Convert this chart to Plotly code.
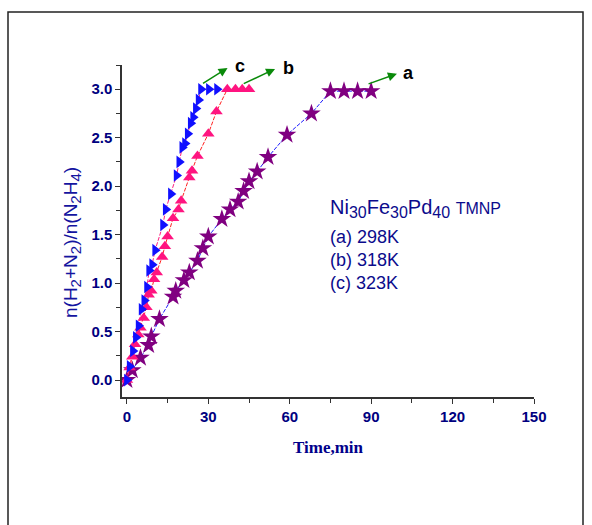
import plotly.graph_objects as go

# Series (a) 298K - stars
t_a = [0, 2, 5, 8, 9, 12, 17, 18, 21, 23, 26, 28, 30, 35, 38, 41, 43, 45, 48, 52, 59, 68, 75, 80, 85, 90]
r_a = [0, 0.10, 0.23, 0.36, 0.45, 0.63, 0.86, 0.92, 1.03, 1.11, 1.23, 1.36, 1.48, 1.66, 1.76, 1.84, 1.95, 2.05, 2.15, 2.30, 2.53, 2.75, 2.98, 2.98, 2.98, 2.98]

# Series (b) 318K - triangles up
t_b = [0, 1, 2, 3, 4.2, 5, 6.2, 7.2, 8, 9, 10, 11, 13, 14, 15, 17, 19, 20, 23, 24, 26, 30, 33, 37, 40, 42.5, 45]
r_b = [0, 0.13, 0.24, 0.37, 0.47, 0.54, 0.64, 0.75, 0.88, 0.92, 1.04, 1.11, 1.27, 1.38, 1.48, 1.67, 1.76, 1.85, 2.09, 2.16, 2.31, 2.54, 2.77, 3.0, 3.0, 3.0, 3.0]

# Series (c) 323K - triangles right
t_c = [0, 1, 2.2, 3.3, 4.3, 5.4, 6.4, 7.4, 8.2, 9.3, 10.4, 13.3, 14.3, 16.2, 18.3, 19.3, 20.4, 21.4, 22.4, 23.5, 24.4, 25.4, 26.4, 27.3, 30.2, 33.2]
r_c = [0, 0.14, 0.30, 0.44, 0.56, 0.73, 0.82, 0.96, 1.13, 1.19, 1.34, 1.60, 1.76, 1.92, 2.11, 2.25, 2.40, 2.44, 2.54, 2.65, 2.71, 2.80, 2.89, 3.0, 3.0, 3.0]

x_ticks = [0, 30, 60, 90, 120, 150]
y_ticks = [0.0, 0.5, 1.0, 1.5, 2.0, 2.5, 3.0]
y_tick_labels = ["0.0", "0.5", "1.0", "1.5", "2.0", "2.5", "3.0"]

legend_lines = ["(a) 298K", "(b) 318K", "(c) 323K"]

NAVY = "#0b0b8c"

fig = go.Figure()
fig.add_trace(go.Scatter(x=t_a, y=r_a, mode="lines+markers",
                         line=dict(color="#1a1aff", width=1, dash="4px,1.5px"),
                         marker=dict(symbol="star", size=14, color="#800080"),
                         showlegend=False))
fig.add_trace(go.Scatter(x=t_b, y=r_b, mode="lines+markers",
                         line=dict(color="#ff2020", width=1, dash="4px,1.5px"),
                         marker=dict(symbol="triangle-up", size=11, color="#ff1480"),
                         showlegend=False))
fig.add_trace(go.Scatter(x=t_c, y=r_c, mode="lines+markers",
                         line=dict(color="#ff2080", width=1, dash="4px,1.5px"),
                         marker=dict(symbol="triangle-right", size=11, color="#1010ff"),
                         showlegend=False))

# arrows with labels
arrows = [
    (27.5, 3.05, 37.1, 3.22, "c", 41.8, 3.24),
    (42.5, 3.05, 54.6, 3.21, "b", 59.4, 3.22),
    (88.5, 3.05, 99.5, 3.16, "a", 103.8, 3.17),
]
for x0, y0, x1, y1, lab, lx, ly in arrows:
    fig.add_annotation(x=x1, y=y1, ax=x0, ay=y0, xref="x", yref="y", axref="x", ayref="y",
                       text="", showarrow=True, arrowhead=2, arrowsize=1.2, arrowwidth=1.5,
                       arrowcolor="#0a8a0a")
    fig.add_annotation(x=lx, y=ly, xref="x", yref="y", text=lab, showarrow=False,
                       font=dict(family="Liberation Sans, Arial", size=18, color="black", weight="bold"))

SUB = "<sub><span style='font-size:16px'>%s</span></sub>"
fig.add_annotation(x=74.2, y=1.77, xref="x", yref="y", xanchor="left", yanchor="middle",
                   text="Ni" + SUB % "30" + "Fe" + SUB % "30" + "Pd" + SUB % "40"
                        + " <span style='font-size:16px'>TMNP</span>",
                   showarrow=False, font=dict(family="Liberation Sans, Arial", size=20, color=NAVY))
for i, s in enumerate(legend_lines):
    fig.add_annotation(x=74.2, y=1.48 - 0.24 * i, xref="x", yref="y", xanchor="left", yanchor="middle",
                       text=s, showarrow=False,
                       font=dict(family="Liberation Sans, Arial", size=18, color=NAVY))

# y-axis title as rotated annotation
YT = "n(H<sub><span style='font-size:15px'>2</span></sub>+N<sub><span style='font-size:15px'>2</span></sub>)/n(N<sub><span style='font-size:15px'>2</span></sub>H<sub><span style='font-size:15px'>4</span></sub>)"
fig.add_annotation(x=(72 - 122) / 412, y=(397 - 243) / 332, xref="paper", yref="paper",
                   xanchor="center", yanchor="middle", textangle=-90, text=YT, showarrow=False,
                   font=dict(family="Liberation Sans, Arial", size=19, color="#1414a0"))

# outer frame
fig.add_shape(type="rect", xref="paper", yref="paper",
              x0=(8 - 122) / 412, x1=(583 - 122) / 412,
              y0=(397 - 540) / 332, y1=(397 - 12) / 332,
              line=dict(color="#222222", width=1.5), fillcolor="rgba(0,0,0,0)", layer="below")

fig.update_layout(
    width=592, height=525,
    margin=dict(l=122, r=58, t=65, b=128),
    paper_bgcolor="white", plot_bgcolor="white",
    xaxis=dict(range=[-1.8, 150], tickvals=x_ticks, ticktext=[str(v) for v in x_ticks],
               showgrid=False, zeroline=False, showline=True, linecolor="#333333", linewidth=1.5,
               ticks="outside", ticklen=5, tickwidth=1.2, tickcolor="#333333",
               minor=dict(tickvals=[15, 45, 75, 105, 135], ticks="outside", ticklen=4, tickcolor="#333333", tickwidth=1.2),
               tickfont=dict(family="Liberation Sans, Arial", size=15, color="#000080", weight="bold"),
               title=dict(text="Time,min", standoff=17,
                          font=dict(family="Liberation Serif, Times New Roman", size=17, color="#00008b", weight="bold"))),
    yaxis=dict(range=[-0.175, 3.25], tickvals=y_ticks, ticktext=y_tick_labels,
               showgrid=False, zeroline=False, showline=True, linecolor="#333333", linewidth=1.5,
               ticks="outside", ticklen=5, tickwidth=1.2, tickcolor="#333333",
               minor=dict(tickvals=[0.25, 0.75, 1.25, 1.75, 2.25, 2.75, 3.25], ticks="outside", ticklen=4, tickcolor="#333333", tickwidth=1.2),
               tickfont=dict(family="Liberation Sans, Arial", size=15, color="#000080", weight="bold")),
)

fig.write_html("out.html")
